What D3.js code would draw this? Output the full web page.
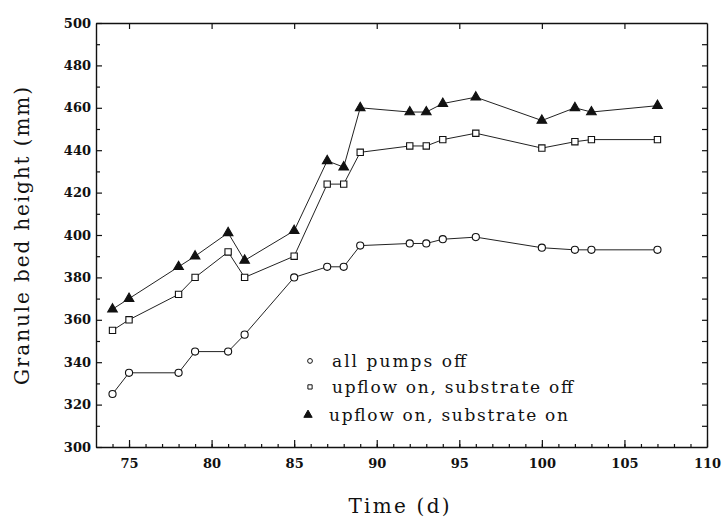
<!DOCTYPE html>
<html lang="en">
<head>
    <meta charset="UTF-8">
    <title>Granule bed height</title>
    <script src="https://d3js.org/d3.v7.min.js"></script>
    <style>
        body { margin: 0; background: #fff; }
        svg { display: block; }
        .tick text { font-family: "DejaVu Serif", serif; font-weight: bold; font-size: 13px; fill: #111; }
        .domain { stroke: #111; stroke-width: 1.4; }
        .tick line { stroke: #111; stroke-width: 1.2; }
        .lbl { font-family: "DejaVu Serif", serif; fill: #111; }
    </style>
</head>
<body>
<div id="chart"></div>
<script>
    // days of measurement
    const days = [74, 75, 78, 79, 81, 82, 85, 87, 88, 89, 92, 93, 94, 96, 100, 102, 103, 107];
    // bed height (mm) per condition
    const pumpsOff = [325, 335, 335, 345, 345, 353, 380, 385, 385, 395, 396, 396, 398, 399, 394, 393, 393, 393];
    const upflowOn = [355, 360, 372, 380, 392, 380, 390, 424, 424, 439, 442, 442, 445, 448, 441, 444, 445, 445];
    const substrateOn = [365, 370, 385, 390, 401, 388, 402, 435, 432, 460, 458, 458, 462, 465, 454, 460, 458, 461];

    const seriesNames = ["all pumps off", "upflow on, substrate off", "upflow on, substrate on"];
    const xTicks = [75, 80, 85, 90, 95, 100, 105, 110];
    const yTicks = [300, 320, 340, 360, 380, 400, 420, 440, 460, 480, 500];

    const W = 722, H = 518;
    const margin = {top: 23, right: 15, bottom: 71, left: 96};
    const width = W - margin.left - margin.right;
    const height = H - margin.top - margin.bottom;

    const svg = d3.select("#chart").append("svg")
        .attr("width", W)
        .attr("height", H);

    const g = svg.append("g")
        .attr("transform", `translate(${margin.left},${margin.top})`);

    const x = d3.scaleLinear().domain([73, 110]).range([0, width]);
    const y = d3.scaleLinear().domain([300, 500]).range([height, 0]);

    // minor ticks first (no labels)
    g.append("g")
        .attr("transform", `translate(0,${height})`)
        .call(d3.axisBottom(x).tickValues(d3.range(74, 110, 1)).tickSize(-3).tickFormat(""))
        .select(".domain").remove();
    g.append("g")
        .call(d3.axisLeft(y).tickValues(d3.range(310, 500, 20)).tickSize(-4).tickFormat(""))
        .select(".domain").remove();
    g.append("g")
        .attr("transform", `translate(${width},0)`)
        .call(d3.axisRight(y).tickValues(d3.range(310, 500, 10)).tickSize(-5).tickFormat(""))
        .select(".domain").remove();

    // major axes
    g.append("g")
        .attr("transform", `translate(0,${height})`)
        .call(d3.axisBottom(x).tickValues(xTicks).tickSize(-7).tickPadding(12).tickSizeOuter(0));
    g.append("g")
        .call(d3.axisLeft(y).tickValues(yTicks).tickSize(-6).tickPadding(5).tickSizeOuter(0));
    g.append("g")
        .call(d3.axisTop(x).tickValues(d3.range(75, 110, 5)).tickSize(-6).tickFormat("").tickSizeOuter(0));
    g.append("g")
        .attr("transform", `translate(${width},0)`)
        .call(d3.axisRight(y).tickValues([]).tickSizeOuter(0));

    const line = d3.line()
        .x(d => x(d[0]))
        .y(d => y(d[1]));

    const series = [pumpsOff, upflowOn, substrateOn].map(vals => days.map((d, i) => [d, vals[i]]));

    series.forEach(pts => {
        g.append("path")
            .datum(pts)
            .attr("fill", "none")
            .attr("stroke", "#222")
            .attr("stroke-width", 1)
            .attr("d", line);
    });

    const symbols = [d3.symbolCircle, d3.symbolSquare, d3.symbolTriangle];
    const fills = ["#fff", "#fff", "#111"];
    const sizes = [40, 40, 40];

    series.forEach((pts, k) => {
        g.selectAll(null)
            .data(pts)
            .join("path")
            .attr("transform", d => `translate(${x(d[0])},${y(d[1])})`)
            .attr("d", d3.symbol(symbols[k], sizes[k]))
            .attr("fill", fills[k])
            .attr("stroke", "#111")
            .attr("stroke-width", 1.1);
    });

    // legend
    const legend = g.append("g").attr("transform", `translate(${x(85.96)},${y(340.6)})`);
    seriesNames.forEach((name, k) => {
        const row = legend.append("g").attr("transform", `translate(${k === 2 ? -2 : 0},${[0, 26, 54][k]})`);
        row.append("path")
            .attr("d", d3.symbol(symbols[k], k === 2 ? 30 : 18))
            .attr("fill", fills[k])
            .attr("stroke", "#111")
            .attr("stroke-width", 1);
        row.append("text")
            .attr("class", "lbl")
            .attr("x", k === 2 ? 21 : 22)
            .attr("y", 6)
            .attr("font-size", 17)
            .attr("textLength", [134, 241, 239][k])
            .attr("lengthAdjust", "spacing")
            .text(name);
    });

    // axis titles
    svg.append("text")
        .attr("class", "lbl")
        .attr("text-anchor", "middle")
        .attr("transform", `translate(29,236) rotate(-90)`)
        .attr("font-size", 20)
        .attr("textLength", 298)
        .attr("lengthAdjust", "spacing")
        .text("Granule bed height (mm)");

    svg.append("text")
        .attr("class", "lbl")
        .attr("text-anchor", "middle")
        .attr("x", 399)
        .attr("y", 513)
        .attr("font-size", 20)
        .attr("textLength", 101)
        .attr("lengthAdjust", "spacing")
        .text("Time (d)");
</script>
</body>
</html>
